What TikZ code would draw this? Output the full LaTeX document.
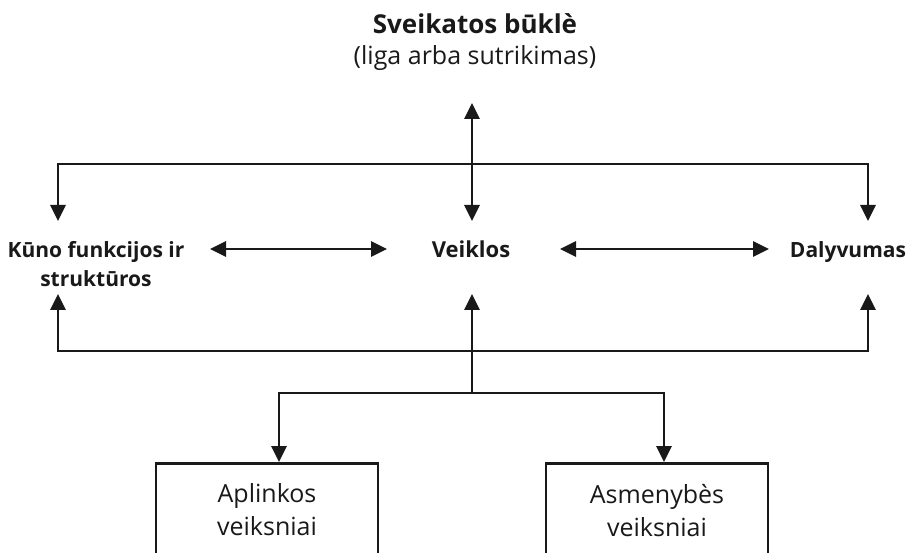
\documentclass[tikz,border=0pt]{standalone}
\usepackage{fontspec}
\setmainfont{Open Sans}
\usetikzlibrary{arrows.meta}
\begin{document}
\begin{tikzpicture}[x=1pt,y=-1pt,line width=2.8pt,color={black!90},
  tip/.style={-{Triangle[length=16pt,width=15pt]}},
  dtip/.style={{Triangle[length=16pt,width=15pt]}-{Triangle[length=16pt,width=15pt]}},
  lbl/.style={font=\fontsize{21}{29}\selectfont\bfseries,align=center,inner sep=0pt,anchor=base},
  boxnode/.style={draw,line width=2.8pt,minimum width=222pt,align=center,
    font=\fontsize{25}{33}\selectfont,anchor=north,inner xsep=0pt,inner ysep=20.5pt,text depth=50pt}]
\useasboundingbox (0,0) rectangle (911,553);
\clip (0,0) rectangle (911,553);
% texts
\node[inner sep=0pt,anchor=base,font=\fontsize{26}{30}\selectfont\bfseries] (title) at (475,34) {Sveikatos būklè};
\node[inner sep=0pt,anchor=base,font=\fontsize{25}{28}\selectfont] (sub) at (475,65) {(liga arba sutrikimas)};
\node[lbl] (kuno) at (96,287) {Kūno funkcijos ir\\struktūros};
\node[lbl,font=\fontsize{22}{29}\selectfont\bfseries] (veiklos) at (471,258) {Veiklos};
\node[lbl] (daly) at (848,258) {Dalyvumas};
\node[boxnode] (aplink) at (267,462) {Aplinkos\\veiksniai};
\node[boxnode] (asmen) at (657,462) {Asmenybès\\veiksniai};
% coordinates
\coordinate (topC) at (472,103);
\coordinate (midTop) at (472,164);
\coordinate (tl) at (58,164);
\coordinate (tr) at (868,164);
\coordinate (bl) at (58,351);
\coordinate (br) at (868,351);
\coordinate (branch) at (472,393);
\coordinate (brl) at (279,393);
\coordinate (brr) at (664,393);
% top tree
\draw[tip] (midTop) -- (topC);
\draw[tip] (midTop) -- (472,221);
\draw[tip] (tr) -- (tl) -- (58,221);
\draw[tip] (tl) -- (tr) -- (868,221);
% double arrows
\draw[dtip] (210,249) -- (387,249);
\draw[dtip] (560,249) -- (769,249);
% bottom tree
\draw[tip] (branch) -- (472,294);
\draw[tip] (br) -- (bl) -- (58,294);
\draw[tip] (bl) -- (br) -- (868,294);
\draw[tip] (brr) -- (brl) -- (brl |- aplink.north);
\draw[tip] (brl) -- (brr) -- (brr |- asmen.north);
\end{tikzpicture}
\end{document}
